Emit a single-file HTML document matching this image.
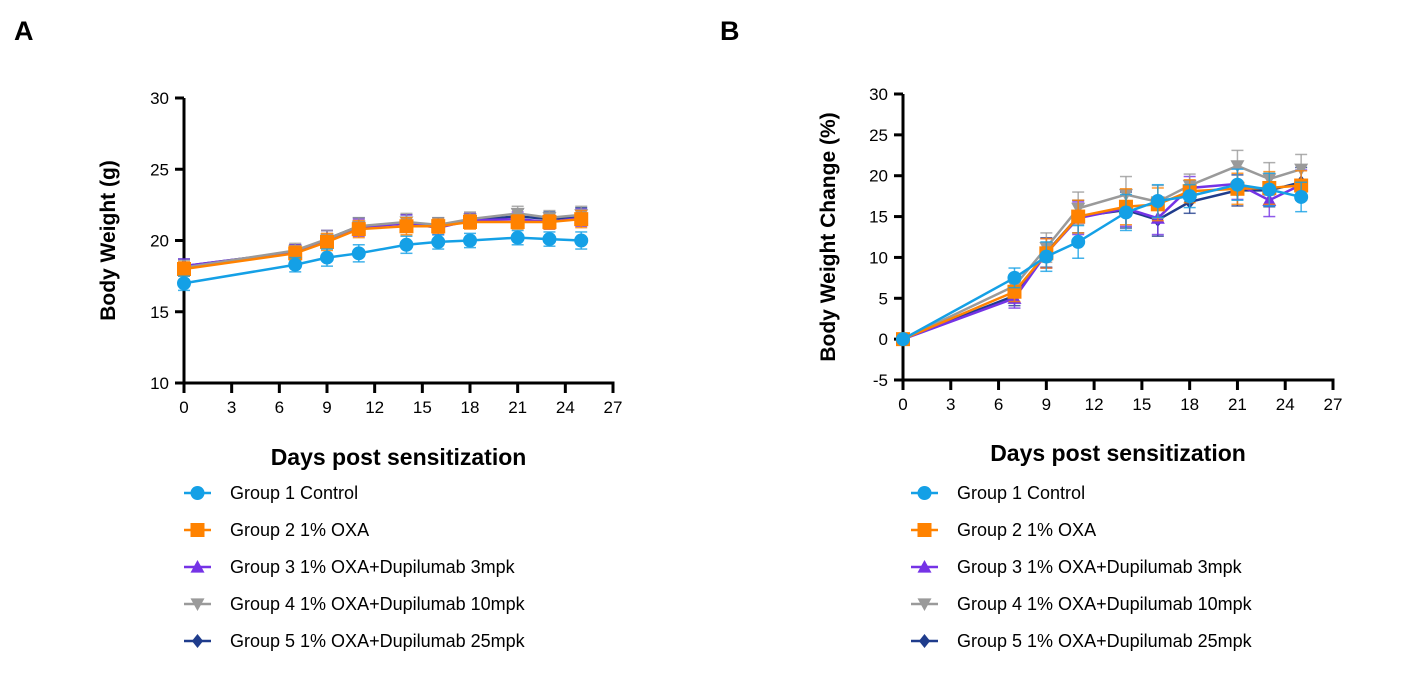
<!DOCTYPE html>
<html><head><meta charset="utf-8"><style>
body{margin:0;background:#fff;font-family:"Liberation Sans",sans-serif}
svg text{font-family:"Liberation Sans",sans-serif}
</style></head><body>
<svg id="s" width="1407" height="677" xmlns="http://www.w3.org/2000/svg">
<text x="14" y="40" font-size="27" font-weight="bold">A</text>
<text x="720" y="40" font-size="27" font-weight="bold">B</text>
</svg>
<script>
const days=[0,7,9,11,14,16,18,21,23,25];
const xTicks=[0,3,6,9,12,15,18,21,24,27];
const groupNames=["Group 1 Control","Group 2 1% OXA","Group 3 1% OXA+Dupilumab 3mpk","Group 4 1% OXA+Dupilumab 10mpk","Group 5 1% OXA+Dupilumab 25mpk"];
const colors=["#14a0e6","#ff8200","#7533e6","#9a9a9a","#1f3c8c"];
const markers=["circle","square","up","down","diamond"];
const ticksA=[10,15,20,25,30];
const ticksB=[-5,0,5,10,15,20,25,30];
const a1=[17.0,18.3,18.8,19.1,19.7,19.9,20.0,20.2,20.1,20.0];
const a2=[18.0,19.1,19.9,20.8,21.0,21.0,21.3,21.3,21.3,21.5];
const a3=[18.2,19.2,20.1,20.9,21.2,20.9,21.4,21.5,21.3,21.6];
const a4=[18.1,19.3,20.1,21.0,21.3,21.1,21.5,21.9,21.6,21.8];
const a5=[18.2,19.2,20.1,21.0,21.2,21.1,21.4,21.7,21.5,21.7];
const aErr=[0.5,0.5,0.6,0.6,0.6,0.5,0.5,0.5,0.5,0.6];
const b1=[0,7.5,10.1,11.9,15.5,16.9,17.5,18.9,18.3,17.4];
const b2=[0,5.8,10.5,15.0,16.2,16.5,18.1,18.4,18.5,18.8];
const b3=[0,5.0,10.5,14.8,16.0,14.8,18.5,19.0,17.0,18.9];
const b4=[0,6.5,11.2,16.0,17.7,16.8,18.8,21.2,19.6,20.8];
const b5=[0,5.3,10.6,15.0,15.8,14.6,16.8,18.2,18.2,19.2];
const bErr=[0,1.2,1.8,2.0,2.2,2.0,1.4,1.9,2.0,1.8];
const NS="http://www.w3.org/2000/svg";
const svg=document.getElementById('s');
function el(t,a,p){const e=document.createElementNS(NS,t);for(const k in a)e.setAttribute(k,a[k]);(p||svg).appendChild(e);return e;}
function marker(g,type,x,y,c,r){
 let m;
 if(type==="circle")m=el('circle',{cx:x,cy:y,r:r,fill:c},g);
 else if(type==="square")m=el('rect',{x:x-r,y:y-r,width:2*r,height:2*r,fill:c},g);
 else if(type==="up")m=el('polygon',{points:`${x},${y-r} ${x-r},${y+r*0.8} ${x+r},${y+r*0.8}`,fill:c},g);
 else if(type==="down")m=el('polygon',{points:`${x},${y+r} ${x-r},${y-r*0.8} ${x+r},${y-r*0.8}`,fill:c},g);
 else m=el('polygon',{points:`${x},${y-r} ${x+r*0.8},${y} ${x},${y+r} ${x-r*0.8},${y}`,fill:c},g);
 return m;
}
function chart(cfg){
 const X=d=>cfg.x0+(d-0)/27*(cfg.x1-cfg.x0);
 const Y=v=>cfg.yb-(v-cfg.ymin)/(cfg.ymax-cfg.ymin)*(cfg.yb-cfg.yt);
 const g=el('g',{});
 
 
 const ax=el('g',{stroke:'#000','stroke-width':3},g);
 
 
 el('line',{x1:cfg.x0,y1:cfg.yt,x2:cfg.x0,y2:cfg.yb+1.5},ax);
 el('line',{x1:cfg.x0-1.5,y1:cfg.yb,x2:cfg.x1+1.5,y2:cfg.yb},ax);
 xTicks.forEach(t=>{
  el('line',{x1:X(t),y1:cfg.yb,x2:X(t),y2:cfg.yb+10},ax);
  const tx=el('text',{x:X(t),y:cfg.yb+30,'font-size':17,'text-anchor':'middle',stroke:'none'},g);
  tx.textContent=t;
  
  
 });
 cfg.yTicks.forEach(t=>{
  el('line',{x1:cfg.x0-9,y1:Y(t),x2:cfg.x0,y2:Y(t)},ax);
  const tx=el('text',{x:cfg.x0-15,y:Y(t)+6,'font-size':17,'text-anchor':'end'},g);
  tx.textContent=t;
  
  
 });
 const xt=el('text',{x:(cfg.x0+cfg.x1)/2,y:cfg.xTitleY,'font-size':23,'font-weight':'bold','text-anchor':'middle'},g);
 xt.textContent="Days post sensitization";
 
 
 const yt=el('text',{x:0,y:0,'font-size':21,'font-weight':'bold','text-anchor':'middle',transform:`translate(${cfg.yTitleX},${(cfg.yt+cfg.yb)/2}) rotate(-90)`},g);
 yt.textContent=cfg.yTitle;
 
 
 const order=[4,2,3,1,0];
 order.forEach(i=>{
  const s=cfg.series[i];
  const sg=el('g',{},g);
  
  
  days.forEach((d,j)=>{
   const e=cfg.err[j];if(!e)return;
   const x=X(d),y1=Y(s[j]-e),y2=Y(s[j]+e);
   el('line',{x1:x,y1:y1,x2:x,y2:y2,stroke:colors[i],'stroke-width':1.5,opacity:0.8},sg);
   el('line',{x1:x-6,y1:y1,x2:x+6,y2:y1,stroke:colors[i],'stroke-width':1.5,opacity:0.8},sg);
   el('line',{x1:x-6,y1:y2,x2:x+6,y2:y2,stroke:colors[i],'stroke-width':1.5,opacity:0.8},sg);
  });
  const pl=el('polyline',{points:days.map((d,j)=>X(d)+','+Y(s[j])).join(' '),fill:'none',stroke:colors[i],'stroke-width':2.5},sg);
  
  
  days.forEach((d,j)=>{
   const m=marker(sg,markers[i],X(d),Y(s[j]),colors[i],7);
   
   
  });
 });
 const lg=el('g',{},g);
 
 
 groupNames.forEach((n,i)=>{
  const y=493+i*37;
  const eg=el('g',{},lg);
  
  
  el('line',{x1:cfg.lx,y1:y,x2:cfg.lx+27,y2:y,stroke:colors[i],'stroke-width':2.5},eg);
  marker(eg,markers[i],cfg.lx+13.5,y,colors[i],7);
  const t=el('text',{x:cfg.lx+46,y:y+6,'font-size':18},eg);
  t.textContent=n;
 });
}
chart({name:'chart-a-body-weight',x0:184,x1:613,yt:98,yb:383,ymin:10,ymax:30,yTicks:ticksA,series:[a1,a2,a3,a4,a5],err:aErr,yTitle:"Body Weight (g)",yTitleX:115,xTitleY:465,lx:184});
chart({name:'chart-b-weight-change',x0:903,x1:1333,yt:94,yb:380,ymin:-5,ymax:30,yTicks:ticksB,series:[b1,b2,b3,b4,b5],err:bErr,yTitle:"Body Weight Change (%)",yTitleX:835,xTitleY:461,lx:911});
</script>
</body></html>
